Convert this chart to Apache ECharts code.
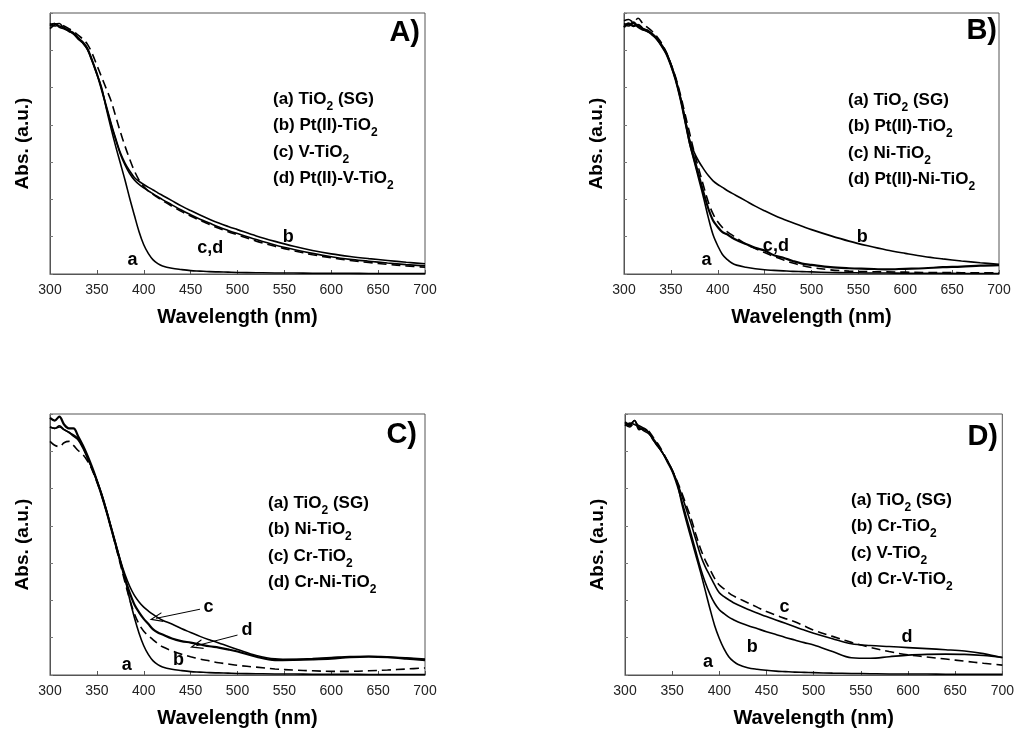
<!DOCTYPE html>
<html>
<head>
<meta charset="utf-8">
<script src="https://cdn.jsdelivr.net/npm/echarts@6/dist/echarts.min.js"></script>
<style>html,body{margin:0;padding:0;background:#fff}#c{width:1017px;height:734px}</style>
</head>
<body>
<div id="c"></div>
<script>
// ---- shared wavelength grid (nm) ----
const wl = [300,305,310,315,320,325,330,335,340,345,350,355,360,365,370,375,380,385,390,395,400,405,410,415,420,430,440,450,460,470,480,490,500,520,540,560,580,600,620,640,660,680,700];
const xTicks = [300,350,400,450,500,550,600,650,700];

// ---- Panel A ----
const A_a = [.95,.96,.945,.94,.93,.92,.905,.885,.86,.815,.765,.715,.635,.56,.49,.425,.36,.29,.225,.162,.112,.078,.054,.04,.031,.022,.017,.013,.011,.009,.008,.007,.006,.005,.004,.004,.003,.003,.003,.002,.002,.002,.002];
const A_b = [.955,.96,.95,.945,.93,.925,.905,.89,.865,.82,.77,.71,.645,.58,.52,.465,.425,.395,.37,.355,.343,.332,.322,.311,.301,.281,.261,.243,.226,.21,.195,.182,.17,.146,.125,.106,.09,.077,.067,.059,.052,.045,.039];
const A_c = [.94,.955,.96,.94,.935,.92,.9,.885,.86,.815,.765,.705,.64,.575,.515,.46,.418,.385,.36,.343,.33,.318,.307,.296,.285,.265,.245,.227,.21,.195,.18,.167,.155,.132,.111,.094,.079,.066,.056,.049,.042,.036,.031];
const A_d = [.96,.95,.955,.95,.94,.93,.915,.9,.88,.845,.8,.755,.71,.665,.605,.545,.49,.44,.395,.36,.335,.318,.305,.293,.281,.26,.24,.222,.205,.19,.175,.162,.15,.126,.106,.089,.074,.062,.052,.044,.037,.031,.026];
const A_legend = ['(a) TiO{s|2} (SG)','(b) Pt(II)-TiO{s|2}','(c) V-TiO{s|2}','(d) Pt(II)-V-TiO{s|2}'];
const A_notes = [['a',388,0.055],['c,d',471,0.10],['b',554,0.14]];

// ---- Panel B ----
const B_a = [.955,.95,.96,.945,.935,.93,.915,.9,.875,.845,.8,.745,.675,.59,.5,.43,.36,.29,.215,.15,.108,.075,.056,.042,.034,.026,.02,.016,.014,.012,.01,.009,.008,.006,.005,.004,.004,.003,.003,.003,.002,.002,.002];
const B_b = [.96,.955,.965,.95,.94,.935,.92,.905,.88,.85,.805,.75,.68,.6,.515,.465,.43,.402,.377,.357,.343,.332,.32,.31,.3,.28,.26,.242,.225,.21,.196,.183,.17,.147,.126,.108,.092,.079,.067,.058,.05,.043,.037];
const B_c = [.945,.96,.95,.955,.94,.93,.92,.9,.875,.845,.8,.745,.675,.59,.505,.44,.375,.31,.25,.205,.18,.16,.152,.14,.13,.115,.1,.09,.072,.062,.05,.04,.035,.026,.022,.02,.018,.02,.022,.026,.028,.032,.034];
const B_d = [.97,.975,.965,.98,.96,.945,.93,.91,.885,.85,.805,.755,.69,.615,.54,.465,.4,.335,.275,.23,.2,.178,.162,.15,.138,.115,.098,.082,.067,.054,.042,.032,.025,.016,.011,.009,.008,.007,.006,.006,.005,.005,.005];
const B_legend = ['(a) TiO{s|2} (SG)','(b) Pt(II)-TiO{s|2}','(c) Ni-TiO{s|2}','(d) Pt(II)-Ni-TiO{s|2}'];
const B_notes = [['a',388,0.055],['c,d',462,0.106],['b',554,0.142]];

// ---- Panel C ----
const C_a = [.95,.945,.955,.94,.93,.92,.905,.875,.835,.79,.745,.69,.63,.565,.5,.435,.37,.29,.22,.16,.112,.078,.054,.04,.031,.022,.017,.013,.011,.009,.008,.007,.006,.005,.004,.004,.003,.003,.003,.002,.002,.002,.002];
const C_b = [.895,.88,.875,.89,.895,.88,.86,.845,.82,.785,.74,.69,.63,.565,.495,.425,.355,.29,.235,.195,.168,.15,.135,.12,.108,.093,.08,.07,.061,.054,.047,.042,.037,.03,.023,.019,.016,.014,.014,.016,.019,.023,.027];
const C_c = [.95,.945,.95,.94,.93,.915,.9,.87,.83,.79,.745,.695,.635,.57,.505,.44,.385,.34,.305,.28,.26,.245,.232,.22,.21,.195,.178,.163,.148,.135,.123,.11,.098,.075,.062,.06,.063,.067,.071,.072,.07,.066,.061];
const C_d = [.985,.975,.99,.96,.945,.945,.915,.88,.84,.795,.745,.69,.63,.565,.5,.435,.37,.315,.27,.24,.215,.195,.175,.163,.155,.14,.13,.124,.117,.11,.105,.098,.09,.07,.057,.058,.06,.063,.068,.07,.068,.063,.057];
const C_legend = ['(a) TiO{s|2} (SG)','(b) Ni-TiO{s|2}','(c) Cr-TiO{s|2}','(d) Cr-Ni-TiO{s|2}'];
const C_notes = [['a',382,0.04],['b',437,0.058],['c',469,0.26],['d',510,0.172]];
const C_arrows = [[460,0.252,413,0.217],[500,0.153,456,0.112]];

// ---- Panel D ----
const D_a = [.965,.955,.975,.945,.94,.93,.9,.875,.85,.82,.785,.74,.66,.59,.525,.46,.395,.325,.255,.19,.14,.1,.07,.052,.04,.028,.022,.018,.015,.013,.011,.01,.009,.007,.006,.005,.004,.004,.004,.003,.003,.003,.003];
const D_b = [.955,.965,.96,.95,.935,.925,.905,.88,.85,.815,.78,.73,.67,.605,.54,.475,.41,.355,.31,.275,.25,.235,.222,.212,.203,.19,.178,.166,.155,.144,.134,.124,.115,.09,.066,.064,.07,.076,.079,.08,.079,.075,.068];
const D_c = [.96,.95,.965,.955,.945,.935,.91,.885,.855,.82,.785,.745,.7,.65,.6,.54,.485,.44,.405,.37,.345,.33,.315,.303,.294,.277,.26,.243,.229,.216,.204,.188,.172,.148,.125,.106,.09,.077,.069,.061,.053,.045,.038];
const D_d = [.97,.96,.975,.94,.945,.93,.9,.875,.85,.82,.785,.74,.69,.635,.58,.52,.46,.415,.38,.345,.315,.3,.288,.277,.268,.252,.238,.224,.211,.198,.185,.172,.16,.139,.12,.113,.109,.105,.101,.097,.092,.082,.066];
const D_legend = ['(a) TiO{s|2} (SG)','(b) Cr-TiO{s|2}','(c) V-TiO{s|2}','(d) Cr-V-TiO{s|2}'];
const D_notes = [['a',388,0.05],['b',435,0.109],['c',469,0.262],['d',599,0.144]];

const panelLetters = ['A)','B)','C)','D)'];

// ---- layout ----
const FONT = '"Liberation Sans", Arial, sans-serif';
const grids = [
  {left:50, right:592, top:13, bottom:460},
  {left:624, right:18, top:13, bottom:460},
  {left:50, right:592, top:414, bottom:59},
  {left:625, right:14, top:414, bottom:59}
];
const legendPos = [{left:273, top:86},{left:848, top:87},{left:268, top:490},{left:851, top:487}];
const letterPos = [{right:597, top:18},{right:20, top:16},{right:600, top:420},{right:19, top:422}];

const panels = [
  {curves:[[A_a,false],[A_b,false],[A_c,false],[A_d,true]], legend:A_legend, notes:A_notes, arrows:[]},
  {curves:[[B_a,false],[B_b,false],[B_c,false,true],[B_d,true]], legend:B_legend, notes:B_notes, arrows:[]},
  {curves:[[C_a,false],[C_b,true],[C_c,false],[C_d,false,true]], legend:C_legend, notes:C_notes, arrows:C_arrows},
  {curves:[[D_a,false],[D_b,false],[D_c,true],[D_d,false]], legend:D_legend, notes:D_notes, arrows:[]}
];

const option = {
  backgroundColor:'#fff',
  animation:false,
  grid: grids.map(g => Object.assign({show:true, borderColor:'#555', borderWidth:1, backgroundColor:'transparent'}, g)),
  xAxis: grids.map((g,i) => ({
    gridIndex:i, type:'value', min:300, max:700, interval:50,
    name:'Wavelength (nm)', nameLocation:'middle', nameGap:33,
    nameTextStyle:{fontFamily:FONT, fontWeight:'bold', fontSize:20, color:'#000'},
    axisLine:{lineStyle:{color:'#555', width:1}},
    axisTick:{show:true, inside:true, length:4, lineStyle:{color:'#555'}},
    axisLabel:{fontFamily:FONT, fontSize:14, color:'#222', margin:9},
    splitLine:{show:false}
  })),
  yAxis: grids.map((g,i) => ({
    gridIndex:i, type:'value', min:0, max:1, interval:1/7,
    name:'Abs. (a.u.)', nameLocation:'middle', nameGap:18, nameRotate:90,
    nameTextStyle:{fontFamily:FONT, fontWeight:'bold', fontSize:19, color:'#000'},
    axisLine:{lineStyle:{color:'#555', width:1}},
    axisTick:{show:true, inside:true, length:3, lineStyle:{color:'#777'}},
    axisLabel:{show:false},
    splitLine:{show:false}
  })),
  title: [],
  series: []
};

const chevron = 'path://M0,12 L5,0 L10,12 L8.8,12 L5,3 L1.2,12 Z';

panels.forEach((p, i) => {
  p.curves.forEach(c => {
    const ys = c[0], dashed = c[1], noisy = c[2];
    option.series.push({
      type:'line', xAxisIndex:i, yAxisIndex:i,
      data: wl.map((x,k) => [x, ys[k]]),
      showSymbol:false, smooth:0.35, silent:true,
      lineStyle:{color:'#000', width: noisy ? 2.2 : 1.6, type: dashed ? [9,5] : 'solid'}
    });
  });
  // curve annotations
  option.series.push({
    type:'scatter', xAxisIndex:i, yAxisIndex:i, symbolSize:0, silent:true,
    itemStyle:{opacity:1, color:'#000'},
    data: p.notes.map(n => ({name:n[0], value:[n[1], n[2]]})),
    label:{show:true, position:'inside', formatter:'{b}', fontFamily:FONT, fontWeight:'bold', fontSize:18,
      color:'#000', opacity:1, textBorderWidth:0, textBorderColor:'transparent'}
  });
  if (p.arrows.length) {
    option.series.push({
      type:'line', xAxisIndex:i, yAxisIndex:i, data:[], silent:true,
      markLine:{
        silent:true, symbol:['none', chevron], symbolSize:[10,13],
        itemStyle:{color:'#000'},
        lineStyle:{color:'#000', width:1, type:'solid'}, label:{show:false},
        data: p.arrows.map(a => [{coord:[a[0],a[1]]},{coord:[a[2],a[3]]}])
      }
    });
  }
  option.title.push(Object.assign({
    text: p.legend.join('\n'), padding:0,
    textStyle:{fontFamily:FONT, fontWeight:'bold', fontSize:17, lineHeight:26.5, color:'#000',
      rich:{s:{fontFamily:FONT, fontWeight:'bold', fontSize:12, lineHeight:15, verticalAlign:'bottom', color:'#000'}}}
  }, legendPos[i]));
  option.title.push(Object.assign({
    text: panelLetters[i], padding:0,
    textStyle:{fontFamily:FONT, fontWeight:'bold', fontSize:29, lineHeight:30, color:'#000'}
  }, letterPos[i]));
});

const chart = echarts.init(document.getElementById('c'), null, {renderer:'canvas'});
chart.setOption(option);
</script>
</body>
</html>
